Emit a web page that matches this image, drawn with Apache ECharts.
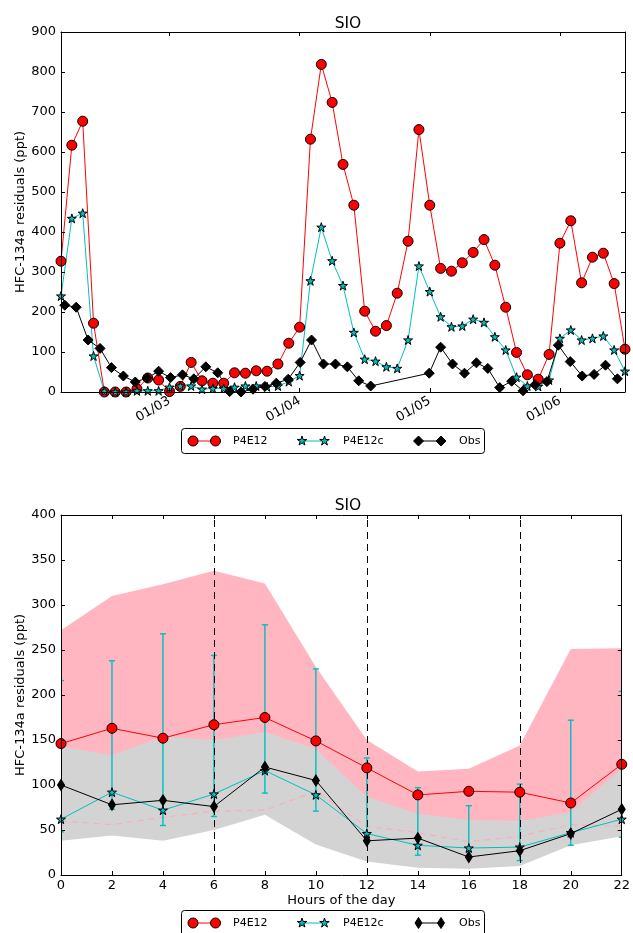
<!DOCTYPE html>
<html>
<head>
<meta charset="utf-8">
<script src="https://cdn.jsdelivr.net/npm/echarts@6/dist/echarts.min.js"></script>
<style>
  html, body { margin: 0; padding: 0; background: #fff; }
  #chart { width: 633px; height: 933px; }
</style>
</head>
<body>
<div id="chart"></div>
<script>
// ---- top panel: time series, x in hours since 01/03 00:00 ----
const modelHours = [-20, -18, -16, -14, -12, -10, -8, -6, -4, -2, 0, 2, 4, 6, 8, 10, 12, 14, 16, 18,
  20, 22, 24, 26, 28, 30, 32, 34, 36, 38, 40, 42, 44, 46, 48, 50, 52, 54, 56, 58, 60, 62, 64, 66,
  68, 70, 72, 74, 76, 78, 80, 82, 84];
const p4e12Series = [327, 617, 677, 172, 0, 0, 0, 8, 35, 30, 1, 14, 74, 28, 22, 22, 48, 47, 53, 52,
  70, 122, 162, 632, 819, 724, 569, 467, 202, 152, 166, 247, 377, 656, 467, 309, 302, 323, 349, 381,
  317, 212, 99, 43, 32, 94, 372, 428, 273, 337, 347, 271, 107];
const p4e12cSeries = [240, 434, 447, 90, 2, 0, 0, 3, 3, 3, 12, 15, 15, 7, 9, 9, 12, 15, 15, 13,
  15, 26, 41, 278, 412, 328, 266, 149, 82, 77, 63, 59, 130, 315, 251, 188, 163, 165, 182, 174,
  138, 105, 37, 15, 14, 30, 134, 155, 130, 134, 140, 105, 52];
const obsHours = [-19.3, -17.2, -15.0, -12.8, -10.7, -8.5, -6.3, -4.1, -2.0, 0.2, 2.4, 4.5, 6.7, 8.9,
  11.1, 13.2, 15.4, 17.6, 19.7, 21.9, 24.1, 26.2, 28.4, 30.6, 32.8, 34.9, 37.1,
  47.9, 50.0, 52.2, 54.4, 56.6, 58.7, 60.9, 63.1, 65.2, 67.4, 69.6, 71.7, 73.9, 76.1, 78.3, 80.4, 82.6];
const obsSeries = [217, 212, 130, 109, 61, 40, 25, 35, 52, 36, 43, 33, 63, 48, 1, 0, 7, 14, 22, 32,
  74, 130, 70, 70, 63, 28, 15,
  47, 112, 70, 47, 73, 59, 11, 27, 3, 18, 26, 117, 76, 40, 44, 67, 33];
const dayTicks = [0, 24, 48, 72];
const dayLabels = ['01/03', '01/04', '01/05', '01/06'];

// ---- bottom panel: diurnal cycle ----
const hours = [0, 2, 4, 6, 8, 10, 12, 14, 16, 18, 20, 22];
const p4e12Mean = [146, 163, 152, 167, 175, 149, 119, 89, 93, 92, 80, 123];
const p4e12cMean = [62, 92, 72, 90, 116, 89, 46, 33, 30, 31, 47, 62];
const p4e12cLow = [48, 73, 55, 65, 91, 71, 37, 22, 26, 16, 33, 42];
const p4e12cHigh = [216, 238, 268, 244, 278, 229, 130, 97, 77, 101, 172, 204];
const obsMean = [100, 78, 83, 76, 120, 105, 38, 41, 20, 27, 46, 73];
const pinkUpper = [272, 310, 323, 338, 324, 231, 150, 115, 118, 144, 251, 252];
const grayUpper = [143, 133, 154, 150, 159, 140, 87, 68, 61, 60, 70, 118];
const grayLower = [38, 44, 38, 50, 67, 34, 15, 8, 7, 10, 33, 43];
const pinkDashed = [60, 56, 64, 71, 72, 93, 54, 47, 37, 43, 56, 54];
const dashedHours = [6, 12, 18];

const RED = '#ff0000', CYAN = '#00bfbf', BLACK = '#000000';
const FONT = 'DejaVu Sans';
const STAR = 'path://M0,-10L2.245,-3.09L9.511,-3.09L3.633,1.18L5.878,8.09L0,3.82L-5.878,8.09L-3.633,1.18L-9.511,-3.09L-2.245,-3.09Z';
const THIN_DIAMOND = 'path://M0,-10L6,0L0,10L-6,0Z';

const pairs = (xs, ys) => xs.map((x, i) => [x, ys[i]]);

const labelStyle = { color: BLACK, fontSize: 13, fontFamily: FONT };
const lineAxis = { show: true, onZero: false, lineStyle: { color: BLACK, width: 1 } };
const tick = { show: true, inside: true, length: 4, lineStyle: { color: BLACK, width: 1 } };

function markerLine(name, xs, ys, color, symbol, size, xi, yi) {
  return {
    name, type: 'line', xAxisIndex: xi, yAxisIndex: yi,
    data: pairs(xs, ys),
    symbol, symbolSize: size, showSymbol: true,
    lineStyle: { color, width: 1 },
    itemStyle: { color, borderColor: BLACK, borderWidth: 1 },
    z: 5
  };
}

// filled area from a curve down to the axis minimum
function fillDown(ys, color, z) {
  return { type: 'line', xAxisIndex: 2, yAxisIndex: 2, silent: true,
    data: pairs(hours, ys), symbol: 'none',
    lineStyle: { opacity: 0 }, areaStyle: { color, opacity: 1, origin: 'start' }, z };
}

// legend drawn as graphic (two markers per entry, like the original)
function starPoints(cx, cy, r) {
  const pts = [];
  for (let k = 0; k < 10; k++) {
    const rr = k % 2 ? r * 0.382 : r;
    const a = -Math.PI / 2 + k * Math.PI / 5;
    pts.push([cx + rr * Math.cos(a), cy + rr * Math.sin(a)]);
  }
  return pts;
}
function legendMarker(kind, cx, cy, color) {
  const style = { fill: color, stroke: BLACK, lineWidth: 1 };
  if (kind === 'circle') return { type: 'circle', z: 101, shape: { cx, cy, r: 5 }, style };
  if (kind === 'star') return { type: 'polygon', z: 101, shape: { points: starPoints(cx, cy, 5) }, style };
  const w = kind === 'diamond' ? 5 : 3.5;
  const h = kind === 'diamond' ? 5 : 5.5;
  return { type: 'polygon', z: 101, shape: { points: [[cx, cy - h], [cx + w, cy], [cx, cy + h], [cx - w, cy]] }, style };
}
function legendBox(top, height, obsKind) {
  const cy = top + 12.5;
  const els = [{ type: 'rect', z: 100, shape: { x: 181.5, y: top, width: 303, height, r: 3 },
    style: { fill: '#fff', stroke: BLACK, lineWidth: 1 } }];
  const entries = [
    { x: 193, color: RED, kind: 'circle', tx: 233, text: 'P4E12' },
    { x: 302, color: CYAN, kind: 'star', tx: 343, text: 'P4E12c' },
    { x: 418.5, color: BLACK, kind: obsKind, tx: 459, text: 'Obs' }
  ];
  entries.forEach(e => {
    els.push({ type: 'line', z: 101, shape: { x1: e.x, y1: cy, x2: e.x + 22.5, y2: cy },
      style: { stroke: e.color, lineWidth: 1 } });
    els.push(legendMarker(e.kind, e.x, cy, e.color));
    els.push(legendMarker(e.kind, e.x + 22.5, cy, e.color));
    els.push({ type: 'text', z: 101, style: { text: e.text, x: e.tx, y: cy, verticalAlign: 'middle',
      textVerticalAlign: 'middle', fill: BLACK, font: '11px "DejaVu Sans"' } });
  });
  return els;
}

const yName = {
  name: 'HFC-134a residuals (ppt)', nameLocation: 'middle', nameGap: 34, nameRotate: 90,
  nameMoveOverlap: false, nameTextStyle: labelStyle
};

const chart = echarts.init(document.getElementById('chart'), null, { renderer: 'canvas' });

const option = {
  animation: false,
  backgroundColor: '#fff',
  textStyle: { fontFamily: FONT },
  title: [
    { text: 'SIO', left: 343, top: 11, textAlign: 'center',
      textStyle: { fontFamily: FONT, fontSize: 15.5, fontWeight: 'normal', color: BLACK } },
    { text: 'SIO', left: 343, top: 493, textAlign: 'center',
      textStyle: { fontFamily: FONT, fontSize: 15.5, fontWeight: 'normal', color: BLACK } }
  ],
  grid: [
    { left: 61, right: 8, top: 32, height: 360 },
    { left: 61, right: 8, top: 515, height: 360 }
  ],
  xAxis: [
    { gridIndex: 0, type: 'value', min: -20, max: 84, position: 'bottom', z: 10,
      axisLine: lineAxis, axisTick: Object.assign({ customValues: dayTicks }, tick),
      axisLabel: Object.assign({ customValues: dayTicks, rotate: 30, margin: 8,
        formatter: v => dayLabels[dayTicks.indexOf(v)] }, labelStyle),
      splitLine: { show: false } },
    { gridIndex: 0, type: 'value', min: -20, max: 84, position: 'top', z: 10,
      axisLine: lineAxis, axisTick: Object.assign({ customValues: dayTicks }, tick),
      axisLabel: { show: false }, splitLine: { show: false } },
    { gridIndex: 1, type: 'value', min: 0, max: 22, interval: 2, position: 'bottom', z: 10,
      name: 'Hours of the day', nameLocation: 'middle', nameGap: 19,
      nameTextStyle: labelStyle,
      axisLine: lineAxis, axisTick: tick,
      axisLabel: Object.assign({ margin: 4, showMinLabel: true, showMaxLabel: true }, labelStyle),
      splitLine: { show: false } },
    { gridIndex: 1, type: 'value', min: 0, max: 22, interval: 2, position: 'top', z: 10,
      axisLine: lineAxis, axisTick: tick, axisLabel: { show: false }, splitLine: { show: false } }
  ],
  yAxis: [
    Object.assign({ gridIndex: 0, type: 'value', min: 0, max: 900, interval: 100, position: 'left', z: 10,
      axisLine: lineAxis, axisTick: tick, axisLabel: Object.assign({ margin: 5 }, labelStyle),
      splitLine: { show: false } }, yName),
    { gridIndex: 0, type: 'value', min: 0, max: 900, interval: 100, position: 'right', z: 10,
      axisLine: lineAxis, axisTick: tick, axisLabel: { show: false }, splitLine: { show: false } },
    Object.assign({ gridIndex: 1, type: 'value', min: 0, max: 400, interval: 50, position: 'left', z: 10,
      axisLine: lineAxis, axisTick: tick, axisLabel: Object.assign({ margin: 5 }, labelStyle),
      splitLine: { show: false } }, yName),
    { gridIndex: 1, type: 'value', min: 0, max: 400, interval: 50, position: 'right', z: 10,
      axisLine: lineAxis, axisTick: tick, axisLabel: { show: false }, splitLine: { show: false } }
  ],
  series: [
    // top panel
    markerLine('P4E12', modelHours, p4e12Series, RED, 'circle', 10, 0, 0),
    markerLine('P4E12c', modelHours, p4e12cSeries, CYAN, STAR, 9, 0, 0),
    markerLine('Obs', obsHours, obsSeries, BLACK, 'diamond', 10, 0, 0),

    // bottom panel: pink band over grey band (white clears below the grey band)
    fillDown(pinkUpper, '#ffb6c1', 1),
    fillDown(grayUpper, '#d3d3d3', 1),
    fillDown(grayLower, '#ffffff', 1),

    // pink dashed line + vertical dashed markers
    { type: 'line', xAxisIndex: 2, yAxisIndex: 2, silent: true,
      data: pairs(hours, pinkDashed), symbol: 'none',
      lineStyle: { color: '#f9aebc', width: 1.2, type: [6, 5] }, z: 2,
      markLine: { silent: true, symbol: 'none', label: { show: false },
        lineStyle: { color: BLACK, width: 1, type: [7, 5] },
        data: dashedHours.map(h => ({ xAxis: h })) } },

    // error bars for P4E12c
    { type: 'custom', xAxisIndex: 2, yAxisIndex: 2, clip: true, silent: true, z: 3,
      data: hours.map((h, i) => [h, p4e12cLow[i], p4e12cHigh[i]]),
      encode: { x: 0, y: [1, 2] },
      renderItem: (params, api) => {
        const x = api.value(0);
        const lo = api.coord([x, api.value(1)]);
        const hi = api.coord([x, api.value(2)]);
        const style = { stroke: CYAN, lineWidth: 1.4, fill: null };
        return { type: 'group', children: [
          { type: 'line', shape: { x1: lo[0], y1: lo[1], x2: hi[0], y2: hi[1] }, style },
          { type: 'line', shape: { x1: hi[0] - 3, y1: hi[1], x2: hi[0] + 3, y2: hi[1] }, style },
          { type: 'line', shape: { x1: lo[0] - 3, y1: lo[1], x2: lo[0] + 3, y2: lo[1] }, style }
        ] };
      } },

    markerLine('P4E12 mean', hours, p4e12Mean, RED, 'circle', 10, 2, 2),
    markerLine('P4E12c mean', hours, p4e12cMean, CYAN, STAR, 9, 2, 2),
    markerLine('Obs mean', hours, obsMean, BLACK, THIN_DIAMOND, [7, 11], 2, 2)
  ],
  graphic: legendBox(428.5, 25, 'diamond').concat(legendBox(910.5, 30, 'thin'))
};

chart.setOption(option);
</script>
</body>
</html>
